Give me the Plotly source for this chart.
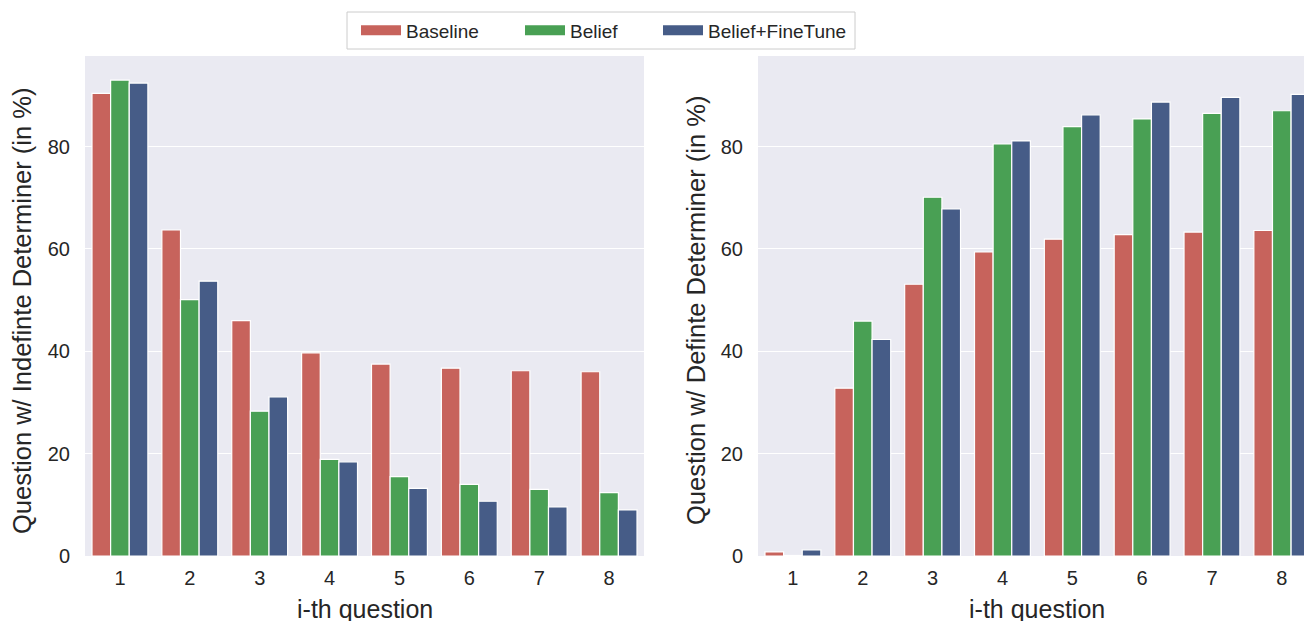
import plotly.graph_objects as go

questions = ["1", "2", "3", "4", "5", "6", "7", "8"]
series_names = ["Baseline", "Belief", "Belief+FineTune"]
colors = ["#C7635C", "#49A054", "#465C87"]

indef_baseline = [90.4, 63.7, 46.0, 39.7, 37.5, 36.7, 36.2, 36.0]
indef_belief = [93.0, 50.1, 28.3, 18.9, 15.5, 14.0, 13.0, 12.4]
indef_finetune = [92.4, 53.7, 31.1, 18.4, 13.2, 10.7, 9.6, 9.0]

def_baseline = [0.8, 32.8, 53.1, 59.4, 61.9, 62.8, 63.3, 63.6]
def_belief = [0.1, 45.9, 70.1, 80.5, 83.9, 85.4, 86.5, 87.0]
def_finetune = [1.2, 42.3, 67.8, 81.1, 86.2, 88.7, 89.6, 90.2]

left_title = "Question w/ Indefinte Determiner (in %)"
right_title = "Question w/ Definte Determiner (in %)"
x_title = "i-th question"

W, H = 1304, 621
FONT = "Liberation Sans, Arial, sans-serif"
TXT = "#262626"

fig = go.Figure()
left_data = [indef_baseline, indef_belief, indef_finetune]
right_data = [def_baseline, def_belief, def_finetune]
for i, name in enumerate(series_names):
    fig.add_trace(go.Bar(x=questions, y=left_data[i], name=name, marker_color=colors[i],
                         marker_line=dict(color="white", width=1.2), showlegend=False,
                         offsetgroup=str(i), xaxis="x", yaxis="y"))
    fig.add_trace(go.Bar(x=questions, y=right_data[i], name=name, marker_color=colors[i],
                         marker_line=dict(color="white", width=1.2), showlegend=False,
                         offsetgroup=str(i), xaxis="x2", yaxis="y2"))

legend_ids = ["legend", "legend2", "legend3"]
legend_left_px = [360, 524, 662]
for i, name in enumerate(series_names):
    fig.add_trace(go.Scatter(x=[None], y=[None], mode="lines", name=name,
                             line=dict(color=colors[i], width=13), showlegend=True,
                             legend=legend_ids[i], xaxis="x", yaxis="y"))

ydom = [1 - 556 / H, 1 - 56 / H]
axis_common = dict(showgrid=False, zeroline=False, showline=False, ticks="",
                   tickfont=dict(size=20, color=TXT, family=FONT), automargin=False,
                   type="category", ticklabelstandoff=8)
yaxis_common = dict(showgrid=True, gridcolor="white", gridwidth=1.3, zeroline=False,
                    showline=False, ticks="", range=[0, 97.7], tickvals=[0, 20, 40, 60, 80],
                    tickfont=dict(size=20, color=TXT, family=FONT), automargin=False,
                    ticklabelstandoff=14)

legend_layout = {}
for i, lid in enumerate(legend_ids):
    legend_layout[lid] = dict(orientation="h", x=(legend_left_px[i] - 4) / W, xanchor="left",
                              y=1 - 30.5 / H, yanchor="middle",
                              bgcolor="rgba(0,0,0,0)", borderwidth=0,
                              font=dict(size=19, color=TXT, family=FONT), itemwidth=40)

fig.update_layout(
    width=W, height=H,
    margin=dict(l=0, r=0, t=0, b=0),
    paper_bgcolor="white", plot_bgcolor="#EAEAF2",
    font=dict(family=FONT, color=TXT),
    barmode="group", bargap=0.2, bargroupgap=0,
    xaxis=dict(domain=[85 / W, 644 / W], range=[-0.5, 7.5], **axis_common),
    xaxis2=dict(domain=[758 / W, 1.0], range=[-0.5, 7.318], anchor="y2", **axis_common),
    yaxis=dict(domain=ydom, anchor="x", **yaxis_common),
    yaxis2=dict(domain=ydom, anchor="x2", **yaxis_common),
    **legend_layout,
)

# legend frame
fig.add_shape(type="rect", xref="paper", yref="paper",
              x0=347 / W, x1=855 / W, y0=1 - 49 / H, y1=1 - 12 / H,
              fillcolor="white", line=dict(color="#CCCCCC", width=1), layer="above")

fig.add_annotation(text=x_title, x=364.5 / W, y=1 - 609 / H, xref="paper", yref="paper",
                   showarrow=False, font=dict(size=25, color=TXT, family=FONT),
                   xanchor="center", yanchor="middle")
fig.add_annotation(text=x_title, x=1037 / W, y=1 - 609 / H, xref="paper", yref="paper",
                   showarrow=False, font=dict(size=25, color=TXT, family=FONT),
                   xanchor="center", yanchor="middle")
fig.add_annotation(text=left_title, x=22 / W, y=1 - 311 / H, xref="paper", yref="paper",
                   showarrow=False, textangle=-90, font=dict(size=25.5, color=TXT, family=FONT),
                   xanchor="center", yanchor="middle")
fig.add_annotation(text=right_title, x=696 / W, y=1 - 311 / H, xref="paper", yref="paper",
                   showarrow=False, textangle=-90, font=dict(size=25.5, color=TXT, family=FONT),
                   xanchor="center", yanchor="middle")

fig.write_html("out.html")
